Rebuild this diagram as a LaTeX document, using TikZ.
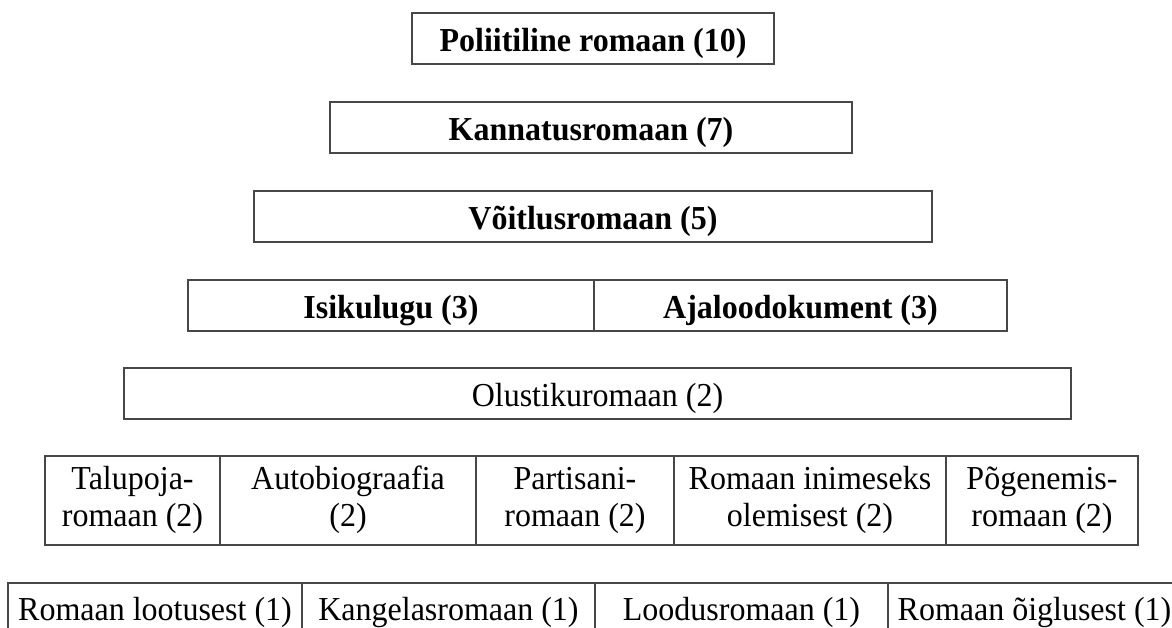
\documentclass[tikz,border=0pt]{standalone}
\usepackage{fontspec}
\setmainfont[FakeStretch=0.955]{Liberation Serif}
\begin{document}
\begin{tikzpicture}[x=1pt,y=-1pt,
  cell/.style={draw=black!72, line width=1.1pt, inner sep=0pt, align=center,
    font=\fontsize{33.5}{37}\selectfont, minimum height=51pt,
    text height=30pt, text depth=5pt},
  tall/.style={cell, minimum height=89pt, text height=54pt, text depth=2pt},
  low/.style={cell, text depth=7pt},
  strong/.style={cell, font=\fontsize{33.5}{37}\selectfont\bfseries}]
\useasboundingbox (0,0) rectangle (1172,627);
\clip (0,0) rectangle (1172,627);
% top levels
\node[strong, minimum width=362pt] (pol) at (593,38.5) {Poliitiline romaan (10)};
\node[strong, minimum width=522pt] (kan) at (591,127.5) {Kannatusromaan (7)};
\node[strong, minimum width=678pt] (voi) at (593,216.5) {Võitlusromaan (5)};
\node[strong, minimum width=406pt] (isi) at (391,305.5) {Isikulugu (3)};
\node[strong, minimum width=413pt] (aja) at (800.5,305.5) {Ajaloodokument (3)};
\node[cell, minimum width=947pt] (olu) at (597.5,393.5) {Olustikuromaan (2)};
% row of five
\node[tall, minimum width=175pt] (tal) at (132.5,500.5) {Talupoja-\\romaan (2)};
\node[tall, minimum width=256pt] (aut) at (348,500.5) {Autobiograafia\\(2)};
\node[tall, minimum width=198pt] (par) at (575,500.5) {Partisani-\\romaan (2)};
\node[tall, minimum width=272pt] (ini) at (810,500.5) {Romaan inimeseks\\olemisest (2)};
\node[tall, minimum width=192pt] (pog) at (1042,500.5) {Põgenemis-\\romaan (2)};
% bottom row, running past the lower edge
\node[low, minimum width=294pt] (loo) at (155,608.5) {Romaan lootusest (1)};
\node[low, minimum width=293pt] (kang) at (448.5,608.5) {Kangelasromaan (1)};
\node[low, minimum width=293pt] (lood) at (741.5,608.5) {Loodusromaan (1)};
\node[low, minimum width=293pt] (oig) at (1034.5,608.5) {Romaan õiglusest (1)};
\end{tikzpicture}
\end{document}
